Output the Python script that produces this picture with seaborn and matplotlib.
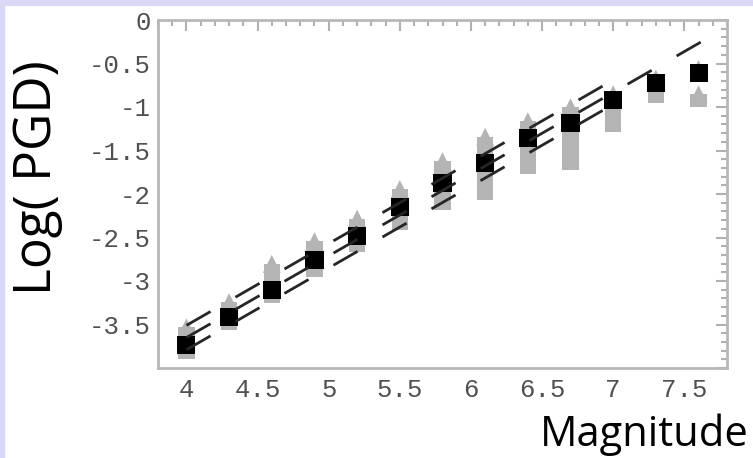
import matplotlib
matplotlib.use("Agg")
import matplotlib.pyplot as plt
import seaborn as sns
from matplotlib.patches import Rectangle
from matplotlib.ticker import MultipleLocator, FuncFormatter

# Mean log(PGD) per magnitude bin (black squares)
magnitude = [4.0, 4.3, 4.6, 4.9, 5.2, 5.5, 5.8, 6.1, 6.4, 6.7, 7.0, 7.3, 7.6]
mean_log_pgd = [-3.74, -3.41, -3.10, -2.76, -2.48, -2.15, -1.87, -1.64, -1.36, -1.18, -0.92, -0.72, -0.61]

# Gray columns of individual observations (top tip / bottom)
obs_mag = [4.0, 4.3, 4.6, 4.9, 5.2, 5.5, 5.8, 6.1, 6.4, 6.7, 7.0, 7.3, 7.6, 7.6]
obs_high = [-3.43, -3.14, -2.70, -2.44, -2.18, -1.84, -1.52, -1.24, -1.06, -0.90, -0.75, -0.57, -0.46, -0.75]
obs_low = [-3.90, -3.56, -3.25, -2.95, -2.67, -2.41, -2.18, -2.07, -1.77, -1.72, -1.29, -0.95, -0.65, -1.00]

# Dashed relations (upper, middle, lower)
upper_x, upper_y = [4.0, 7.0], [-3.51, -0.69]
middle_x, middle_y = [4.0, 7.62], [-3.65, -0.25]
lower_x, lower_y = [4.0, 7.0], [-3.79, -0.97]

y_ticks = [-4, -3.5, -3, -2.5, -2, -1.5, -1, -0.5, 0]
x_ticks = [4, 4.5, 5, 5.5, 6, 6.5, 7, 7.5]

sns.set_style("white")
plt.rcParams["lines.scale_dashes"] = False
plt.rcParams["axes.unicode_minus"] = False

fig = plt.figure(figsize=(7.53, 4.58), dpi=100)
ax = fig.add_axes([158 / 753, 1 - 368 / 458, 569 / 753, 348 / 458])

gray = "#b4b4b4"
tri_ms = 13.0
tri_half = tri_ms / 2 * 100 / 72 / 87.0  # half triangle height in data units

# gray columns: bar body + triangular tip
tri_center = [h - tri_half for h in obs_high]
ax.bar(obs_mag, [c - l for c, l in zip(tri_center, obs_low)], bottom=obs_low,
       width=0.115, color=gray, linewidth=0, zorder=1)
sns.scatterplot(x=obs_mag, y=tri_center, marker="^", s=tri_ms ** 2, color=gray,
                edgecolor="none", linewidth=0, ax=ax, zorder=1)

# mean values
sns.scatterplot(x=magnitude, y=mean_log_pgd, marker="s", s=13 ** 2, color="black",
                edgecolor="none", linewidth=0, ax=ax, zorder=3)

# dashed lines
for lx, ly in [(upper_x, upper_y), (middle_x, middle_y), (lower_x, lower_y)]:
    ax.plot(lx, ly, color="#262626", linewidth=2.0, linestyle=(0, (20, 20.7)),
            dash_capstyle="butt", zorder=4)

ax.set_xlim(3.8, 7.8)
ax.set_ylim(-4.0, 0.0)
ax.set_xticks(x_ticks)
ax.set_yticks(y_ticks)
ax.xaxis.set_minor_locator(MultipleLocator(0.1))
ax.yaxis.set_minor_locator(MultipleLocator(0.1))
ax.xaxis.set_major_formatter(FuncFormatter(lambda v, p: f"{v:g}"))
ax.yaxis.set_major_formatter(FuncFormatter(lambda v, p: "" if v <= -4 else f"{v:g}"))

ax.tick_params(which="both", direction="in", top=True, right=True, color="#b0b0b0", width=1.5)
ax.tick_params(which="major", length=8, labelsize=18.5, labelcolor="#505050")
ax.tick_params(axis="x", which="major", pad=7)
ax.tick_params(axis="y", which="major", pad=5)
ax.tick_params(which="minor", length=4)
for lab in ax.get_xticklabels() + ax.get_yticklabels():
    lab.set_family("Liberation Mono")
for sp in ax.spines.values():
    sp.set_color("#b8b8b8")
    sp.set_linewidth(2)
ax.set_xlabel("")
ax.set_ylabel("")

# axis titles
fig.text(38 / 753, 1 - 178 / 458, "Log( PGD)", rotation=90, ha="center", va="center",
         fontsize=37, family="Open Sans", color="black")
fig.text(749 / 753, 1 - 446 / 458, "Magnitude", ha="right", va="baseline",
         fontsize=30, family="Open Sans", color="black")

# lavender slide border
fig.patches.append(Rectangle((0, 0), 4 / 753, 1, transform=fig.transFigure,
                             color="#d9d9f7", zorder=0))
fig.patches.append(Rectangle((0, 1 - 5 / 458), 1, 5 / 458, transform=fig.transFigure,
                             color="#d9d9f7", zorder=0))

fig.savefig("out.png", dpi=100)
